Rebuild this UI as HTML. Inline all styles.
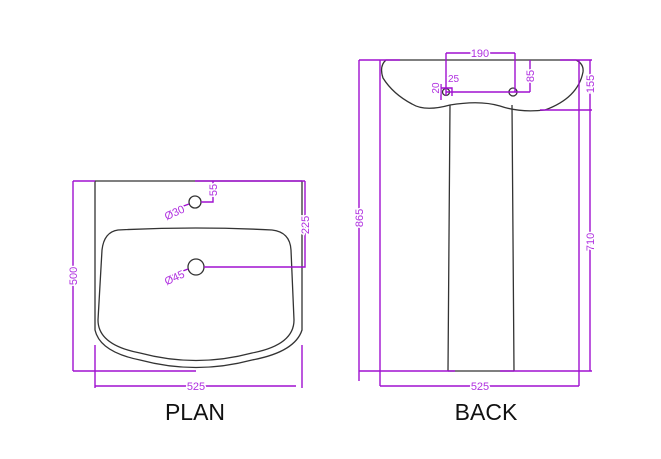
<!DOCTYPE html>
<html><head><style>body{margin:0;background:#fff}svg{display:block}</style></head><body>
<svg width="661" height="459" viewBox="0 0 661 459" xmlns="http://www.w3.org/2000/svg" font-family="Liberation Sans, sans-serif">
<g fill="none" stroke="#333" stroke-width="1.3">
<path d="M95 181 H302"/>
<path d="M95 181 V330 Q100 352 140 360 Q196 375 252 360 Q295 352 302 330 V181"/>
<path d="M118 230 Q196 226 272 230 Q290 232 291 250 L294 320 Q294 345 252 353 Q196 368 140 353 Q98 345 98 320 L102 250 Q104 232 118 230 Z"/>
<circle cx="195" cy="202" r="6"/>
<circle cx="196" cy="267" r="8"/>
<path d="M386 60 H576 Q584 64 583 72 Q578 98 545 110 Q520 113 500 106 Q480 100 450 105 Q425 112 412 104 Q393 94 383 78 Q379 66 386 60 Z"/>
<path d="M450 105 L448 371 M512 105 L514 371 M448 371 H514"/>
<ellipse cx="513" cy="92" rx="4" ry="4"/>
<circle cx="446" cy="92" r="3.5"/>
</g>
<g fill="none" stroke="#a010d0" stroke-width="1.4">
<path d="M73 181 V371 M73 181 H95 M195 181 H305 M73 371 H196"/>
<path d="M95 345 V388 M302 345 V388 M95 386 H296"/>
<path d="M201 202 H213 V181 M204 267 H305 V181"/>
<path d="M170 211 L189 204 M170 276 L188 269"/>
<path d="M359 60 V381 M359 60 H400 M359 371 H455 M500 371 H592 M380 60 V386 M579 60 V386 M380 386 H579"/>
<path d="M590 60 V371 M560 60 H592 M540 110 H592"/>
<path d="M446 53 H515 M446 53 V96 M515 53 V92 M446 92 H530 M530 60 V92 M440 88 H452 V96 M441 84 V100"/>
</g>
<g fill="#b030e0" font-size="11" stroke="#fff" stroke-width="3" paint-order="stroke">
<text x="196" y="390" text-anchor="middle">525</text>
<text x="480" y="390" text-anchor="middle">525</text>
<text x="480" y="57" text-anchor="middle">190</text>
<text x="448" y="82" font-size="10">25</text>
<text transform="translate(77,276) rotate(-90)" text-anchor="middle">500</text>
<text transform="translate(217,190) rotate(-90)" text-anchor="middle">55</text>
<text transform="translate(309,225) rotate(-90)" text-anchor="middle">225</text>
<text transform="translate(176,216) rotate(-25)" text-anchor="middle">Ø30</text>
<text transform="translate(176,281) rotate(-25)" text-anchor="middle">Ø45</text>
<text transform="translate(363,218) rotate(-90)" text-anchor="middle">865</text>
<text transform="translate(594,242) rotate(-90)" text-anchor="middle">710</text>
<text transform="translate(594,84) rotate(-90)" text-anchor="middle">155</text>
<text transform="translate(534,76) rotate(-90)" text-anchor="middle">85</text>
<text transform="translate(439,88) rotate(-90)" text-anchor="middle" font-size="10">20</text>
</g>
<g fill="#111" font-size="23">
<text x="195" y="420" text-anchor="middle">PLAN</text>
<text x="486" y="420" text-anchor="middle">BACK</text>
</g>
</svg>
</body></html>
